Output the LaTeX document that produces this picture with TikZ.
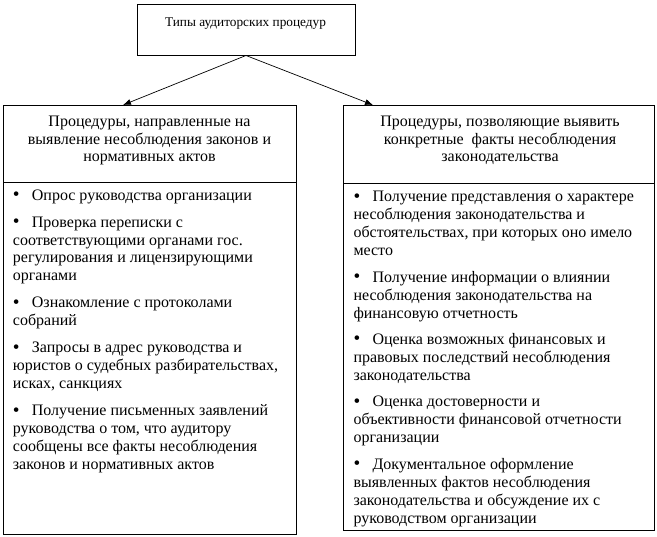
\documentclass[tikz,border=0pt]{standalone}
\usepackage{fontspec}
\setmainfont{Liberation Serif}
\usetikzlibrary{arrows.meta,calc}
\newcommand\bul{\makebox[19pt][l]{\raisebox{-0.3pt}{\scalebox{1.2}{•}}}}
\begin{document}
\begin{tikzpicture}[x=1pt,y=-1pt,
  box/.style={draw,line width=0.9pt,inner sep=0pt,outer sep=0pt},
  sep/.style={line width=0.9pt},
  txt/.style={font=\fontsize{16}{18}\selectfont,inner sep=0pt,align=left},
  head/.style={font=\fontsize{16}{17.6}\selectfont,inner sep=0pt,align=center},
  arr/.style={-{Latex[length=8pt,width=6pt]},line width=0.7pt}]
\useasboundingbox (0,0) rectangle (657,537);
\fill[white] (0,0) rectangle (657,537);
% boxes
\node[box,minimum width=218pt,minimum height=51pt] (top) at (246,30) {};
\node[box,minimum width=293pt,minimum height=429pt,anchor=north west] (lbox) at (3,105) {};
\node[box,minimum width=311pt,minimum height=425pt,anchor=north west] (rbox) at (343,105) {};
\draw[sep] ([yshift=-77pt]lbox.north west) -- ([yshift=-77pt]lbox.north east);
\draw[sep] ([yshift=-78pt]rbox.north west) -- ([yshift=-78pt]rbox.north east);
% arrows
\coordinate (la) at ($(lbox.north west)+(120,0)$);
\coordinate (ra) at ($(rbox.north west)+(30,0)$);
\draw[arr] (top.south) -- (la);
\draw[arr] (top.south) -- (ra);
% texts
\node[inner sep=0pt,font=\fontsize{13.3}{15}\selectfont,anchor=base] (ttl) at (245.5,26.5) {Типы аудиторских процедур};
\node[head,anchor=base] (lhead) at (149.5,162) {Процедуры, направленные на\\выявление несоблюдения законов и\\нормативных актов};
\node[head,anchor=base] (rhead) at (500,162) {Процедуры, позволяющие выявить\\конкретные\ \ факты несоблюдения\\законодательства};
\node[txt,anchor=base west] (litems) at (12.7,470) {%
\bul Опрос руководства организации\\[9pt]
\bul Проверка переписки с\\
соответствующими органами гос.\\
регулирования и лицензирующими\\
органами\\[9pt]
\bul Ознакомление с протоколами\\
собраний\\[9pt]
\bul Запросы в адрес руководства и\\
юристов о судебных разбирательствах,\\
исках, санкциях\\[9pt]
\bul Получение письменных заявлений\\
руководства о том, что аудитору\\
сообщены все факты несоблюдения\\
законов и нормативных актов};
\node[txt,anchor=base west] (ritems) at (353.3,523.3) {%
\bul Получение представления о характере\\
несоблюдения законодательства и\\
обстоятельствах, при которых оно имело\\
место\\[8.4pt]
\bul Получение информации о влиянии\\
несоблюдения законодательства на\\
финансовую отчетность\\[8.4pt]
\bul Оценка возможных финансовых и\\
правовых последствий несоблюдения\\
законодательства\\[8.4pt]
\bul Оценка достоверности и\\
объективности финансовой отчетности\\
организации\\[8.4pt]
\bul Документальное оформление\\
выявленных фактов несоблюдения\\
законодательства и обсуждение их с\\
руководством организации};
\end{tikzpicture}
\end{document}
